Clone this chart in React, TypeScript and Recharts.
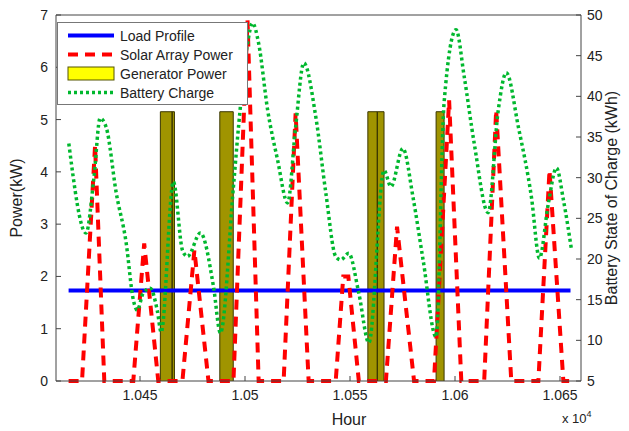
import {
  Area,
  ComposedChart,
  Label,
  Line,
  XAxis,
  YAxis,
} from 'recharts'

const FONT = '"Liberation Sans", Arial, Helvetica, sans-serif'

// hours (x axis is shown as x 10^4)
const HOUR_TICKS = [10450, 10500, 10550, 10600, 10650]
const KW_TICKS = [0, 1, 2, 3, 4, 5, 6, 7]
const KWH_TICKS = [5, 10, 15, 20, 25, 30, 35, 40, 45, 50]

// load profile (flat)
const LOAD_HOURS = [10416, 10655]
const LOAD_KW = 1.73

// solar array power, daily bumps
const SOLAR_HOURS = [
  10416, 10422.4, 10428.6, 10433, 10446.8, 10452, 10458.7, 10470.2, 10475.9, 10482.6,
  10494.5, 10501.2, 10506.5, 10518.4, 10524.1, 10530.3, 10543.2, 10546.8, 10549.2, 10554.2,
  10567.1, 10572.4, 10580.5, 10590, 10597.2, 10603, 10613.9, 10619.6, 10626.8,
  10639.7, 10645, 10651.6, 10655,
]
const SOLAR_KW = [
  0, 0, 4.5, 0, 0, 2.63, 0, 0, 2.5, 0,
  0, 6.9, 0, 0, 5.12, 0, 0, 2.0, 2.0, 0,
  0, 2.95, 0, 0, 5.37, 0, 0, 5.18, 0,
  0, 4.03, 0, 0,
]

// generator runs (start / stop hour)
const GEN_START = [10459.7, 10465.3, 10488, 10558.5, 10563, 10591]
const GEN_STOP = [10465.3, 10466.4, 10494.4, 10563, 10566.2, 10594.8]
const GEN_KW = 5.15

// battery state of charge
const BAT_HOURS = [
  10416.1, 10424.3, 10428.1, 10431, 10433.9, 10438.7, 10443.4, 10446.8, 10448.7, 10451.5,
  10454.9, 10458.2, 10460.1, 10465.9, 10470.2, 10472.6, 10478.8, 10485, 10488.3, 10494.5,
  10496.9, 10501.2, 10503.6, 10506.5, 10510.8, 10515.5, 10520.3, 10524.1, 10528, 10533.7,
  10538.5, 10543.2, 10545.6, 10549.4, 10554.2, 10559, 10566.2, 10569.5, 10575.2, 10580,
  10584.8, 10591, 10594.8, 10600.5, 10604.4, 10609.1, 10615.8, 10620.6, 10624.4, 10630.2,
  10636.4, 10640.2, 10644.5, 10648.3, 10651.6, 10655.5,
]
const BAT_KWH = [
  34.2, 23.2, 30.1, 37.3, 36.2, 28.1, 22, 15, 13.7, 15.8,
  16.4, 13.7, 11.0, 29.5, 21.1, 20.3, 23.2, 16.6, 10.9, 28.9,
  36.2, 46.5, 49, 46.5, 38.3, 32.2, 26.9, 36.2, 44.1, 37.5,
  28.1, 20.3, 19.9, 20.7, 15.8, 9.7, 30.9, 28.9, 33.6, 27.6,
  19.9, 10.4, 39.2, 48.2, 42.4, 34.3, 25.7, 38.3, 42.9, 36.2,
  27.6, 20.1, 26.9, 31.2, 27.3, 21.1,
]

const loadData = LOAD_HOURS.map((h) => ({ h, p: LOAD_KW }))
const solarData = SOLAR_HOURS.map((h, i) => ({ h, p: SOLAR_KW[i] }))
const batData = BAT_HOURS.map((h, i) => ({ h, b: BAT_KWH[i] }))
const genData: { h: number; g: number | null }[] = []
GEN_START.forEach((s, i) => {
  const e = GEN_STOP[i]
  genData.push({ h: s, g: 0 }, { h: s, g: GEN_KW }, { h: e, g: GEN_KW }, { h: e, g: 0 }, { h: e, g: null })
})

const tickStyle = { fontSize: 14, fill: '#222', fontFamily: FONT }

function LegendBox() {
  const rows = [
    { name: 'Load Profile', kind: 'load' },
    { name: 'Solar Array Power', kind: 'solar' },
    { name: 'Generator Power', kind: 'gen' },
    { name: 'Battery Charge', kind: 'bat' },
  ]
  return (
    <div
      style={{
        position: 'absolute',
        left: 57,
        top: 22,
        width: 189,
        height: 78,
        border: '1px solid #777',
        background: '#fff',
        fontFamily: FONT,
        fontSize: 14,
        color: '#222',
        paddingTop: 3,
      }}
    >
      {rows.map((r) => (
        <div key={r.name} style={{ display: 'flex', alignItems: 'center', height: 19 }}>
          <svg width={62} height={19} style={{ flex: 'none' }}>
            {r.kind === 'load' && <line x1={10} x2={56} y1={9.5} y2={9.5} stroke="#0000ff" strokeWidth={4} />}
            {r.kind === 'solar' && (
              <line x1={10} x2={56} y1={9.5} y2={9.5} stroke="#ff0000" strokeWidth={4} strokeDasharray="10 7" />
            )}
            {r.kind === 'gen' && <rect x={10} y={3} width={46} height={13} fill="#ffff00" stroke="#555500" />}
            {r.kind === 'bat' && (
              <line x1={10} x2={56} y1={9.5} y2={9.5} stroke="#00b82e" strokeWidth={3.5} strokeDasharray="3 3" />
            )}
          </svg>
          <span style={{ whiteSpace: 'nowrap' }}>{r.name}</span>
        </div>
      ))}
    </div>
  )
}

export default function App() {
  return (
    <div style={{ position: 'fixed', left: 0, top: 0, width: 629, height: 431, background: '#fff' }}>
      <ComposedChart width={629} height={431} margin={{ top: 14, right: 0, bottom: 0, left: 0 }}>
        <XAxis
          xAxisId="top"
          orientation="top"
          type="number"
          dataKey="h"
          domain={[10410, 10660]}
          ticks={HOUR_TICKS}
          tick={false}
          height={1}
          tickSize={-5}
          stroke="#444"
        />
        <XAxis
          type="number"
          dataKey="h"
          domain={[10410, 10660]}
          ticks={HOUR_TICKS}
          tickFormatter={(v: number) => String(v / 10000)}
          tick={tickStyle}
          tickSize={-5}
          tickMargin={14}
          height={50}
          stroke="#444"
        >
          <Label
            content={({ viewBox }: any) => (
              <g fontFamily={FONT} fill="#222">
                <text x={viewBox.x + 293} y={viewBox.y + 44} fontSize={16} textAnchor="middle">
                  Hour
                </text>
                <text x={viewBox.x + 506} y={viewBox.y + 42} fontSize={13}>
                  x 10
                  <tspan fontSize={9} dy={-6}>
                    4
                  </tspan>
                </text>
              </g>
            )}
          />
        </XAxis>
        <YAxis
          yAxisId="kw"
          domain={[0, 7]}
          ticks={KW_TICKS}
          tick={tickStyle}
          tickSize={-5}
          tickMargin={13}
          width={56}
          stroke="#444"
        >
          <Label
            content={({ viewBox }: any) => (
              <text
                x={viewBox.x + 18}
                y={viewBox.y + viewBox.height / 2}
                transform={`rotate(-90, ${viewBox.x + 18}, ${viewBox.y + viewBox.height / 2})`}
                textAnchor="middle"
                dominantBaseline="middle"
                fontSize={16}
                fontFamily={FONT}
                fill="#222"
              >
                Power(kW)
              </text>
            )}
          />
        </YAxis>
        <YAxis
          yAxisId="kwh"
          orientation="right"
          domain={[5, 50]}
          ticks={KWH_TICKS}
          tick={tickStyle}
          tickSize={-5}
          tickMargin={11}
          width={48}
          stroke="#444"
        >
          <Label
            content={({ viewBox }: any) => (
              <text
                x={viewBox.x + 32}
                y={viewBox.y + viewBox.height / 2}
                transform={`rotate(-90, ${viewBox.x + 32}, ${viewBox.y + viewBox.height / 2})`}
                textAnchor="middle"
                dominantBaseline="middle"
                fontSize={16}
                fontFamily={FONT}
                fill="#222"
              >
                Battery State of Charge (kWh)
              </text>
            )}
          />
        </YAxis>
        <Area
          yAxisId="kw"
          data={genData}
          dataKey="g"
          type="linear"
          stroke="#3a3600"
          strokeWidth={1}
          fill="#a09400"
          fillOpacity={1}
          connectNulls={false}
          dot={false}
          activeDot={false}
          isAnimationActive={false}
        />
        <Line
          yAxisId="kw"
          data={loadData}
          dataKey="p"
          stroke="#0000ff"
          strokeWidth={4}
          dot={false}
          activeDot={false}
          isAnimationActive={false}
        />
        <Line
          yAxisId="kw"
          data={solarData}
          dataKey="p"
          type="linear"
          stroke="#ff0000"
          strokeWidth={4}
          strokeDasharray="10 7"
          dot={false}
          activeDot={false}
          isAnimationActive={false}
        />
        <Line
          yAxisId="kwh"
          data={batData}
          dataKey="b"
          type="monotone"
          stroke="#00b82e"
          strokeWidth={3.5}
          strokeDasharray="3 3"
          dot={false}
          activeDot={false}
          isAnimationActive={false}
        />
      </ComposedChart>
      <LegendBox />
    </div>
  )
}
